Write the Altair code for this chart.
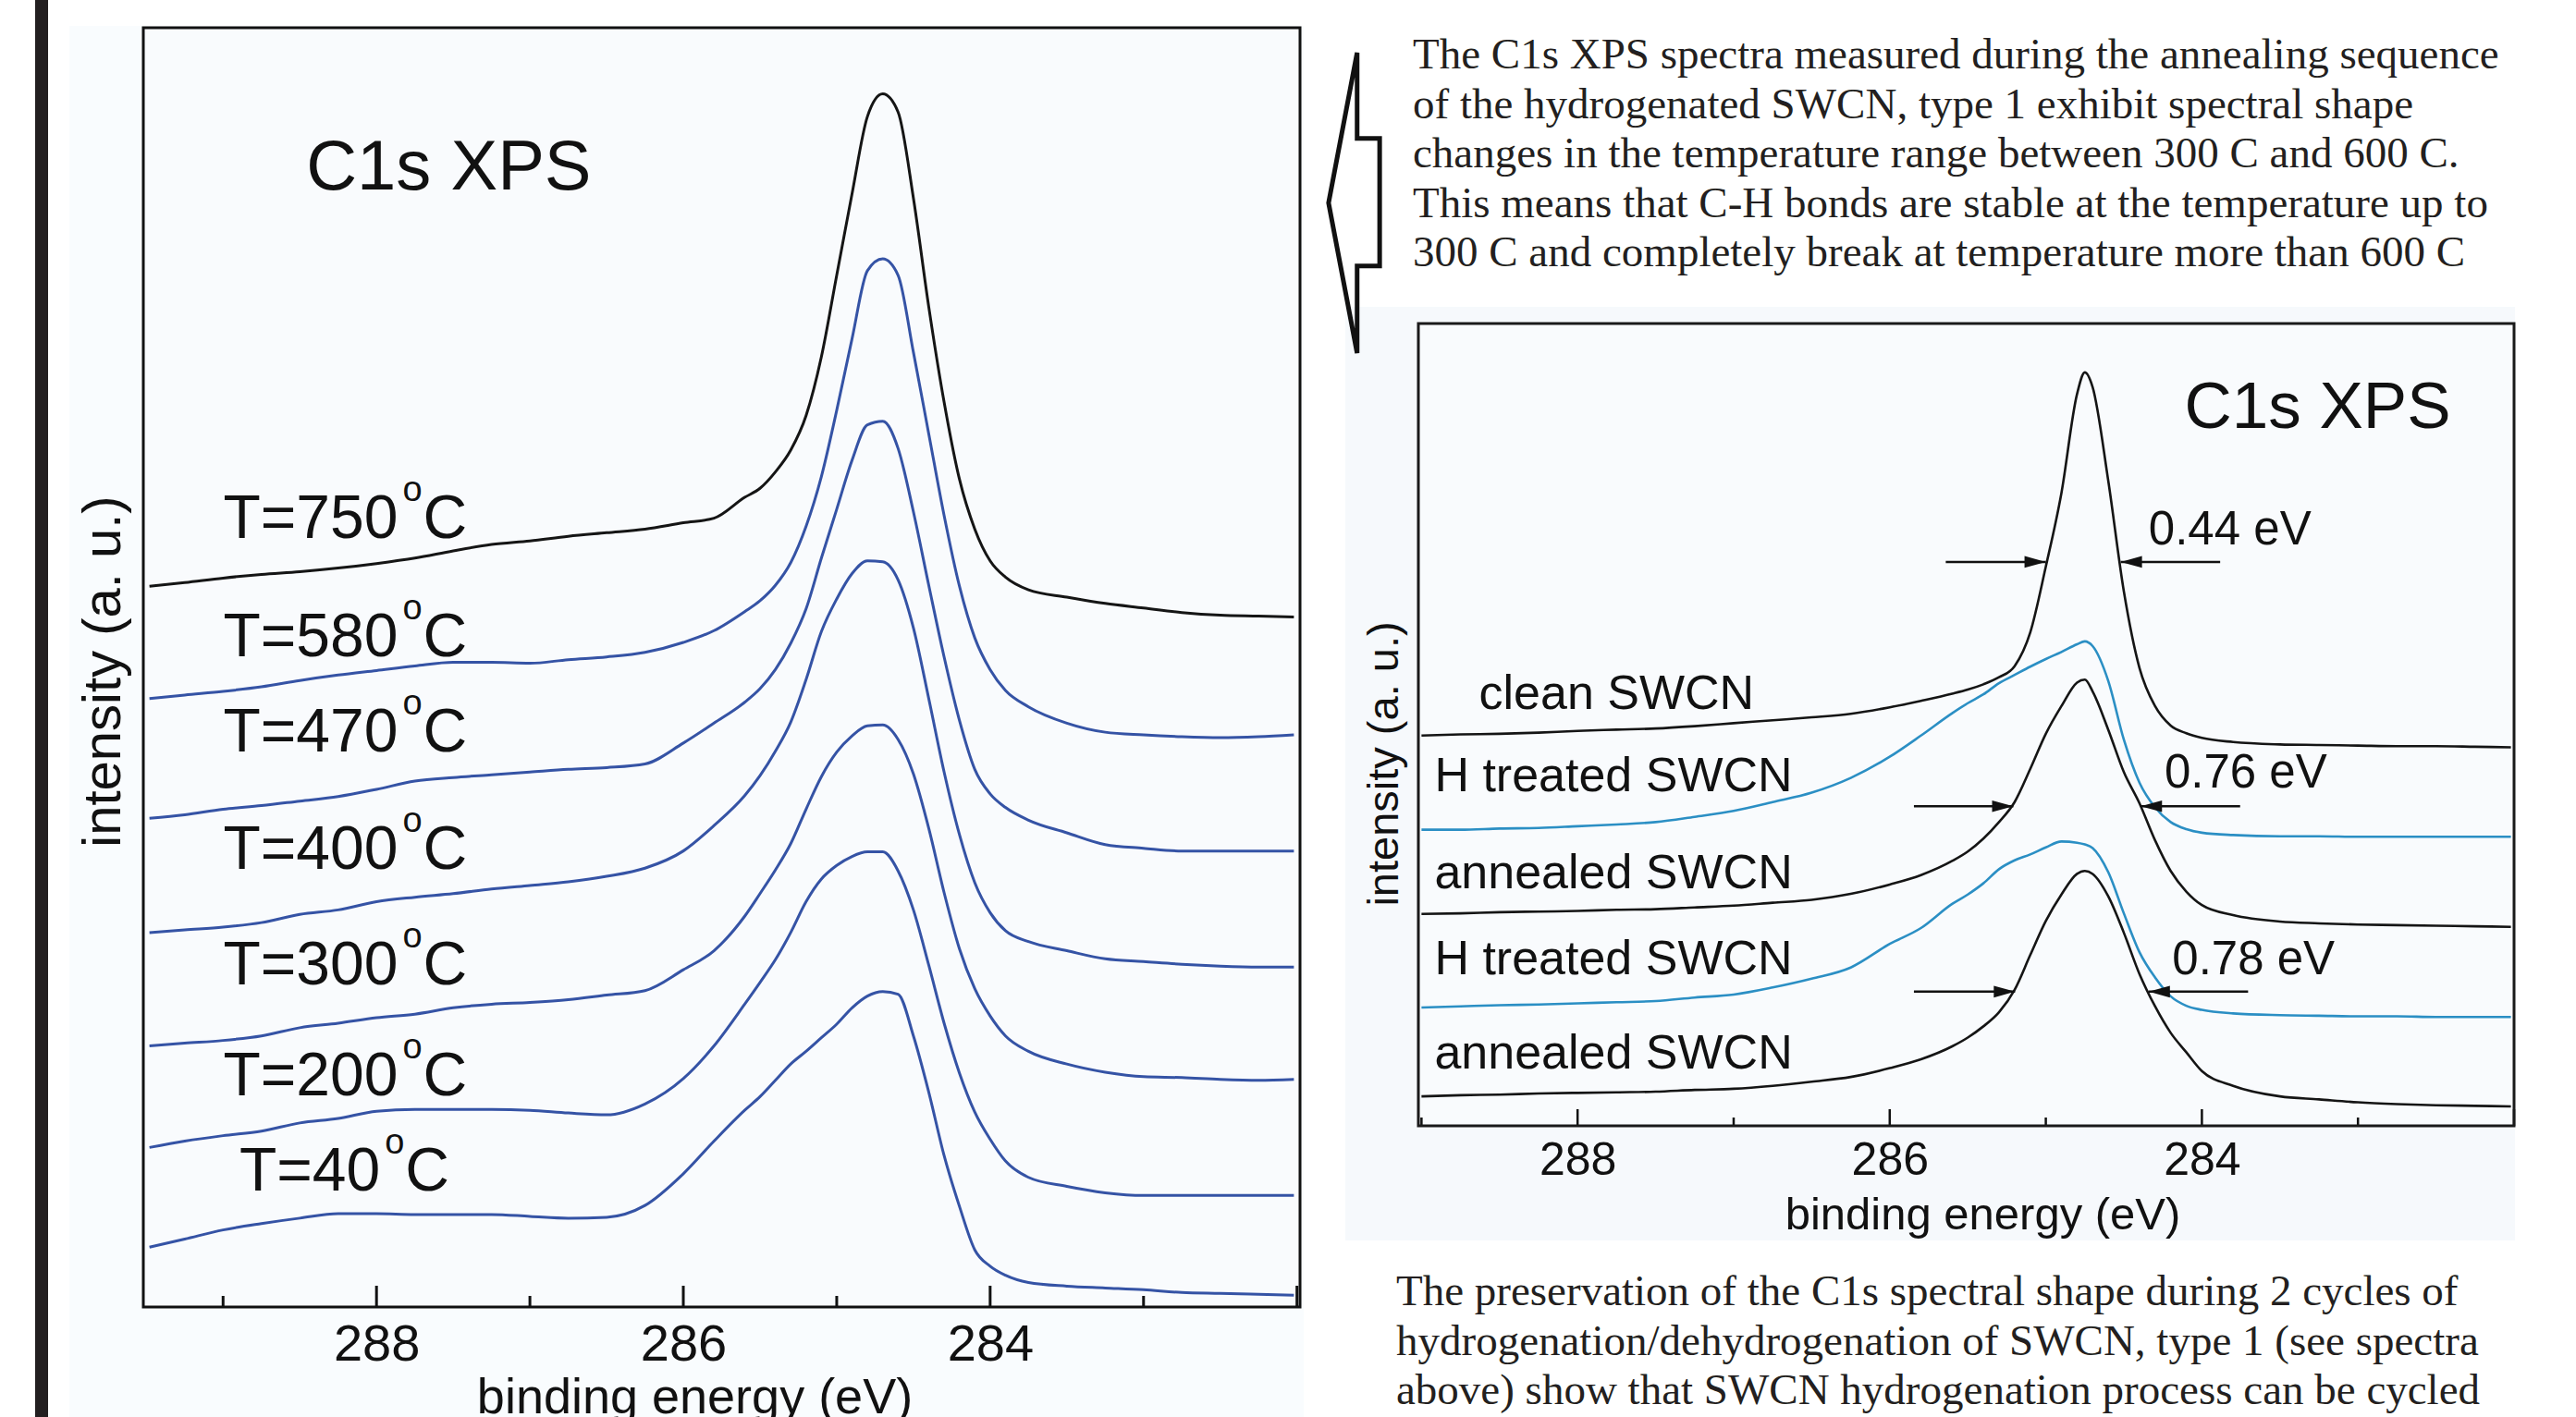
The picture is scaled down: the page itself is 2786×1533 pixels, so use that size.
import altair as alt
import pandas as pd

FONT = "Liberation Sans"
SERIF = "Liberation Serif"
INK = "#111111"

# ---------------- left panel: annealing sequence ----------------
LEFT_EV = [289.48, 289.25, 289.0, 288.75, 288.5, 288.25, 288.0, 287.75, 287.5, 287.25,
           287.0, 286.75, 286.5, 286.25, 286.0, 285.8, 285.6, 285.5, 285.4, 285.3,
           285.2, 285.1, 285.0, 284.9, 284.8, 284.7, 284.6, 284.5, 284.4, 284.3,
           284.2, 284.1, 284.0, 283.9, 283.75, 283.5, 283.25, 283.0, 282.75, 282.5,
           282.25, 282.02]
T750 = [795, 799, 804, 808, 811, 815, 820, 826, 834, 841, 845, 850, 854, 858, 865, 870, 893, 903, 921, 945,
        983, 1048, 1138, 1228, 1313, 1338, 1318, 1223, 1103, 998, 913, 858, 823, 805, 791, 783, 776, 771, 766, 763,
        762, 761]
T580 = [671, 675, 679, 684, 691, 697, 702, 707, 711, 711, 710, 714, 717, 722, 733, 746, 767, 779, 796, 821,
        861, 916, 989, 1068, 1143, 1156, 1138, 1053, 963, 873, 795, 738, 703, 680, 662, 644, 634, 631, 629, 628,
        629, 631]
T470 = [539, 543, 549, 553, 558, 563, 571, 580, 584, 587, 590, 593, 595, 599, 622, 644, 667, 682, 703, 732,
        770, 826, 880, 934, 973, 977, 947, 877, 796, 717, 647, 593, 566, 551, 537, 523, 510, 506, 503, 503,
        503, 503]
T400 = [413, 416, 419, 424, 433, 438, 447, 452, 456, 461, 465, 469, 475, 484, 503, 531, 564, 586, 613, 645,
        692, 745, 781, 809, 823, 822, 802, 749, 671, 590, 521, 468, 435, 415, 403, 393, 384, 381, 378, 376,
        375, 375]
T300 = [288, 291, 294, 299, 308, 313, 319, 323, 330, 334, 336, 339, 344, 349, 372, 393, 431, 456, 482, 511,
        549, 585, 612, 630, 641, 642, 626, 588, 528, 457, 395, 351, 321, 299, 282, 268, 259, 254, 253, 251,
        250, 251]
T200 = [176, 183, 189, 194, 203, 208, 216, 218, 218, 218, 217, 214, 212, 224, 252, 288, 334, 358, 383, 413,
        447, 472, 487, 497, 502, 502, 481, 438, 377, 313, 258, 215, 185, 161, 143, 133, 126, 123, 123, 123,
        123, 123]
T40 = [66, 75, 85, 92, 98, 103, 103, 102, 102, 102, 100, 98, 99, 112, 147, 183, 217, 232, 250, 268,
       282, 297, 312, 330, 343, 348, 345, 299, 237, 167, 111, 63, 45, 35, 27, 23, 21, 19, 16, 15,
       14, 13]
LEFT_TEMPS = ["750", "580", "470", "400", "300", "200", "40"]
LEFT_CURVES = [T750, T580, T470, T400, T300, T200, T40]
LEFT_COLORS = ["#151515", "#3553a5", "#3553a5", "#3553a5", "#3553a5", "#3553a5", "#3553a5"]
LEFT_LABEL_X = [287.86, 287.86, 287.86, 287.86, 287.86, 287.86, 287.976]
LEFT_LABEL_Y = [848, 718, 613, 483, 356, 233, 128]
LEFT_MAJOR = [288, 286, 284, 282]
LEFT_MINOR = [289, 287, 285, 283]
LEFT_TITLE_X = [288.458]
LEFT_TITLE_Y = [1233]

# ---------------- right panel: hydrogenation cycles ----------------
RIGHT_EV = [289.0, 288.75, 288.5, 288.25, 288.0, 287.75, 287.5, 287.25, 287.0, 286.75,
            286.5, 286.25, 286.0, 285.8, 285.6, 285.5, 285.4, 285.3, 285.2, 285.1,
            285.0, 284.9, 284.8, 284.75, 284.7, 284.6, 284.5, 284.4, 284.3, 284.2,
            284.1, 284.0, 283.8, 283.5, 283.25, 283.0, 282.75, 282.5, 282.25, 282.02]
CLEAN = [663, 665, 666, 668, 671, 673, 675, 679, 684, 689, 694, 700, 711, 722, 734, 741, 750, 762, 781, 838,
         950, 1075, 1243, 1280, 1255, 1096, 908, 778, 713, 680, 667, 659, 652, 648, 647, 646, 645, 645, 644, 643]
HTREAT1 = [503, 503, 505, 506, 509, 512, 516, 525, 535, 550, 566, 591, 627, 663, 701, 718, 733, 752, 766, 780,
           793, 805, 818, 823, 815, 756, 656, 583, 541, 516, 504, 498, 494, 492, 492, 491, 491, 491, 491, 491]
ANNEAL1 = [360, 361, 363, 364, 365, 367, 368, 371, 374, 379, 384, 394, 410, 426, 450, 466, 488, 516, 550, 606,
           666, 713, 753, 758, 738, 673, 601, 548, 485, 433, 398, 375, 358, 347, 344, 342, 341, 340, 339, 338]
HTREAT2 = [201, 203, 205, 206, 208, 210, 212, 218, 223, 235, 250, 269, 309, 336, 377, 393, 412, 436, 451, 461,
           473, 483, 481, 478, 472, 431, 361, 295, 252, 220, 204, 197, 191, 188, 187, 186, 186, 185, 185, 185]
ANNEAL2 = [50, 52, 53, 55, 56, 57, 58, 61, 63, 68, 75, 83, 98, 113, 135, 150, 169, 193, 231, 290,
           348, 393, 428, 433, 428, 390, 328, 258, 203, 158, 125, 93, 68, 50, 45, 40, 37, 35, 34, 33]
RIGHT_IDS = ["clean", "H1", "A1", "H2", "A2"]
RIGHT_CURVES = [CLEAN, HTREAT1, ANNEAL1, HTREAT2, ANNEAL2]
RIGHT_COLORS = ["#151515", "#2b8fc4", "#151515", "#2b8fc4", "#151515"]
RIGHT_LABELS = ["clean SWCN", "H treated SWCN", "annealed SWCN", "H treated SWCN", "annealed SWCN"]
RIGHT_LABEL_X = [288.632, 288.917, 288.917, 288.917, 288.917]
RIGHT_LABEL_Y = [708, 569, 404, 257, 98]
RIGHT_MAJOR = [288, 286, 284, 282]
RIGHT_MINOR = [289, 287, 285, 283]
RIGHT_TITLE_X = [284.112]
RIGHT_TITLE_Y = [1185]

FWHM_TEXT = ["0.44 eV", "0.76 eV", "0.78 eV"]
FWHM_TEXT_X = [284.341, 284.24, 284.19]
FWHM_TEXT_Y = [988, 575, 257]
FWHM_ARROW_Y = [958, 543, 228]
FWHM_LEFT_TAIL = [285.641, 285.845, 285.845]
FWHM_LEFT_TIP = [285.0, 285.208, 285.197]
FWHM_RIGHT_TAIL = [283.883, 283.755, 283.704]
FWHM_RIGHT_TIP = [284.52, 284.392, 284.341]

TOP_LINES = [
    "The C1s XPS spectra measured during the annealing sequence",
    "of the hydrogenated SWCN, type 1 exhibit spectral shape",
    "changes in the temperature range between 300 C and 600 C.",
    "This means that C-H bonds are stable at the temperature up to",
    "300 C and completely break at temperature more than 600 C",
]
BOTTOM_LINES = [
    "The preservation of the C1s spectral shape during 2 cycles of",
    "hydrogenation/dehydrogenation of SWCN, type 1 (see spectra",
    "above) show that SWCN hydrogenation process can be cycled",
]

ARROW_PATH = "M0.02,-1L0.02,-0.43L0.17,-0.43L0.17,0.42L0.02,0.42L0.02,1L-0.17,0Z"
HEAD_R = "M-2,-0.55L0,0L-2,0.55Z"
HEAD_L = "M2,-0.55L0,0L2,0.55Z"

# ---------------- tables ----------------
one = pd.DataFrame({"k": [0]})
left_df = pd.DataFrame([
    {"ev": e, "intensity": v, "series": t, "col": c}
    for t, curve, c in zip(LEFT_TEMPS, LEFT_CURVES, LEFT_COLORS) for e, v in zip(LEFT_EV, curve)
])
left_lab = pd.DataFrame({"main": ["T=" + t for t in LEFT_TEMPS], "ev": LEFT_LABEL_X, "intensity": LEFT_LABEL_Y})
right_df = pd.DataFrame([
    {"ev": e, "intensity": v, "series": s, "col": c}
    for s, curve, c in zip(RIGHT_IDS, RIGHT_CURVES, RIGHT_COLORS) for e, v in zip(RIGHT_EV, curve)
])
right_lab = pd.DataFrame({"label": RIGHT_LABELS, "ev": RIGHT_LABEL_X, "intensity": RIGHT_LABEL_Y})
fwhm_lab = pd.DataFrame({"label": FWHM_TEXT, "ev": FWHM_TEXT_X, "intensity": FWHM_TEXT_Y})
arrows = pd.DataFrame(
    [{"intensity": y, "ev": a, "tip": b, "head": HEAD_R} for y, a, b in zip(FWHM_ARROW_Y, FWHM_LEFT_TAIL, FWHM_LEFT_TIP)]
    + [{"intensity": y, "ev": a, "tip": b, "head": HEAD_L} for y, a, b in zip(FWHM_ARROW_Y, FWHM_RIGHT_TAIL, FWHM_RIGHT_TIP)]
)

# ---------------- left chart ----------------
WL, HL = 1251, 1384
LX = alt.Scale(domain=[281.98, 289.52], reverse=True, nice=False, zero=False)
LY = alt.Scale(domain=[0, 1411], nice=False, zero=False)
LXAX = alt.Axis(values=[288, 286, 284], format="d", ticks=False, domain=False, grid=False, zindex=2,
                labelFontSize=56, labelPadding=13, labelColor=INK, labelFont=FONT,
                title="binding energy (eV)", titleFontSize=54, titleFontWeight="normal",
                titleColor=INK, titlePadding=3, titleX=596, titleFont=FONT)
LYAX = alt.Axis(labels=False, ticks=False, domain=False, grid=False, zindex=2,
                title="intensity (a. u.)", titleFontSize=58, titleFontWeight="normal",
                titleColor=INK, titlePadding=14, titleY=696, titleFont=FONT)


def lx(field="ev"):
    return alt.X(f"{field}:Q", scale=LX, axis=LXAX)


def ly(field="intensity"):
    return alt.Y(f"{field}:Q", scale=LY, axis=LYAX)


l_bg = alt.Chart(one).mark_rect(color="#f9fcfe").encode(
    x=alt.value(-80), x2=alt.value(WL + 4), y=alt.value(-2), y2=alt.value(HL + 119))
l_bar = alt.Chart(one).mark_rect(color="#231f20").encode(
    x=alt.value(-117), x2=alt.value(-103), y=alt.value(-30), y2=alt.value(HL + 119))
l_plotbg = alt.Chart(one).mark_rect(color="#f9fbfd").encode(
    x=alt.value(0), x2=alt.value(WL), y=alt.value(0), y2=alt.value(HL))
l_lines = alt.Chart(left_df).mark_line(strokeWidth=3, interpolate="monotone").encode(
    x=lx(), y=ly(), color=alt.Color("col:N", scale=None), detail="series:N")
l_major = alt.Chart(pd.DataFrame({"ev": LEFT_MAJOR})).mark_rule(color=INK, strokeWidth=3).encode(
    x=lx(), y=alt.value(HL), y2=alt.value(HL - 23))
l_minor = alt.Chart(pd.DataFrame({"ev": LEFT_MINOR})).mark_rule(color=INK, strokeWidth=3).encode(
    x=lx(), y=alt.value(HL), y2=alt.value(HL - 12))
l_main = alt.Chart(left_lab).mark_text(align="right", baseline="alphabetic", fontSize=66,
                                       font=FONT, color=INK).encode(text="main:N", x=lx(), y=ly())
l_sup = alt.Chart(left_lab).mark_text(align="left", baseline="alphabetic", fontSize=38, dx=5, dy=-40,
                                      font=FONT, color=INK).encode(text=alt.value("o"), x=lx(), y=ly())
l_c = alt.Chart(left_lab).mark_text(align="left", baseline="alphabetic", fontSize=66, dx=27,
                                    font=FONT, color=INK).encode(text=alt.value("C"), x=lx(), y=ly())
l_title = alt.Chart(pd.DataFrame({"t": ["C1s XPS"], "ev": LEFT_TITLE_X, "intensity": LEFT_TITLE_Y})).mark_text(
    align="left", baseline="alphabetic", fontSize=76, font=FONT, color=INK).encode(text="t:N", x=lx(), y=ly())
l_frame = alt.Chart(one).mark_rect(fill="transparent", stroke=INK, strokeWidth=3).encode(
    x=alt.value(0), x2=alt.value(WL), y=alt.value(0), y2=alt.value(HL))

left = alt.layer(l_bg, l_bar, l_plotbg, l_lines, l_major, l_minor, l_main, l_sup, l_c,
                 l_title, l_frame).properties(width=WL, height=HL)

# ---------------- right chart ----------------
WR, HR = 1185, 868
RX = alt.Scale(domain=[282.0, 289.02], reverse=True, nice=False, zero=False)
RY = alt.Scale(domain=[0, 1363], nice=False, zero=False)
RXAX = alt.Axis(values=[288, 286, 284], format="d", ticks=False, domain=False, grid=False, zindex=2,
                labelFontSize=50, labelPadding=12, labelColor=INK, labelFont=FONT,
                title="binding energy (eV)", titleFontSize=49, titleFontWeight="normal",
                titleColor=INK, titlePadding=10, titleX=610, titleFont=FONT)
RYAX = alt.Axis(labels=False, ticks=False, domain=False, grid=False, zindex=2,
                title="intensity (a. u.)", titleFontSize=47, titleFontWeight="normal",
                titleColor=INK, titlePadding=13, titleY=476, titleFont=FONT)


def rx(field="ev"):
    return alt.X(f"{field}:Q", scale=RX, axis=RXAX)


def ry(field="intensity"):
    return alt.Y(f"{field}:Q", scale=RY, axis=RYAX)


r_bg = alt.Chart(one).mark_rect(color="#f6f9fc").encode(
    x=alt.value(-79), x2=alt.value(WR + 1), y=alt.value(-18), y2=alt.value(992))
r_arrow = alt.Chart(one).mark_point(shape=ARROW_PATH, size=325 * 325, filled=False, opacity=1,
                                    stroke="#111111", strokeWidth=5).encode(
    x=alt.value(-69.5), y=alt.value(-130.5))
r_plotbg = alt.Chart(one).mark_rect(color="#f9fbfd").encode(
    x=alt.value(0), x2=alt.value(WR), y=alt.value(0), y2=alt.value(HR))
r_lines = alt.Chart(right_df).mark_line(strokeWidth=2.6, interpolate="monotone").encode(
    x=rx(), y=ry(), color=alt.Color("col:N", scale=None), detail="series:N")
r_major = alt.Chart(pd.DataFrame({"ev": RIGHT_MAJOR})).mark_rule(color=INK, strokeWidth=2.5).encode(
    x=rx(), y=alt.value(HR), y2=alt.value(HR - 18))
r_minor = alt.Chart(pd.DataFrame({"ev": RIGHT_MINOR})).mark_rule(color=INK, strokeWidth=2.5).encode(
    x=rx(), y=alt.value(HR), y2=alt.value(HR - 9))
r_labels = alt.Chart(right_lab).mark_text(align="left", baseline="alphabetic", fontSize=52,
                                          font=FONT, color=INK).encode(text="label:N", x=rx(), y=ry())
r_fwhm = alt.Chart(fwhm_lab).mark_text(align="left", baseline="alphabetic", fontSize=51,
                                       font=FONT, color=INK).encode(text="label:N", x=rx(), y=ry())
r_title = alt.Chart(pd.DataFrame({"t": ["C1s XPS"], "ev": RIGHT_TITLE_X, "intensity": RIGHT_TITLE_Y})).mark_text(
    align="left", baseline="alphabetic", fontSize=71, font=FONT, color=INK).encode(text="t:N", x=rx(), y=ry())
r_shafts = alt.Chart(arrows).mark_rule(color=INK, strokeWidth=2.5).encode(
    x=rx(), x2="tip:Q", y=ry())
r_heads = alt.Chart(arrows).mark_point(filled=True, opacity=1, color=INK, size=529, strokeWidth=0).encode(
    x=rx("tip"), y=ry(), shape=alt.Shape("head:N", scale=None))
r_frame = alt.Chart(one).mark_rect(fill="transparent", stroke="#1a1a1a", strokeWidth=3).encode(
    x=alt.value(0), x2=alt.value(WR), y=alt.value(0), y2=alt.value(HR))
r_text = alt.Chart(pd.DataFrame({"t": ["\n".join(BOTTOM_LINES)]})).mark_text(
    align="left", baseline="alphabetic", fontSize=47, lineHeight=53.5, lineBreak="\n",
    font=SERIF, color="#231f20").encode(text="t:N", x=alt.value(-24), y=alt.value(1062))

right = alt.layer(r_bg, r_arrow, r_plotbg, r_lines, r_major, r_minor, r_labels, r_fwhm, r_title,
                  r_shafts, r_heads, r_frame, r_text).properties(width=WR, height=HR)

# ---------------- top text ----------------
top = alt.Chart(pd.DataFrame({"t": ["\n".join(TOP_LINES)]})).mark_text(
    align="left", baseline="alphabetic", fontSize=47, lineHeight=53.5, lineBreak="\n",
    font=SERIF, color="#231f20").encode(text="t:N", x=alt.value(-6), y=alt.value(44)).properties(
    width=WR, height=320)

right_col = alt.vconcat(top, right, spacing=0, bounds="flush")
chart = alt.hconcat(left, right_col, spacing=128, bounds="flush").properties(
    padding={"left": 38, "top": 0, "right": 0, "bottom": 0},
    background="white",
).configure(font=FONT).configure_view(strokeWidth=0)

chart.save("out.html", embed_options={"renderer": "svg", "actions": False})
